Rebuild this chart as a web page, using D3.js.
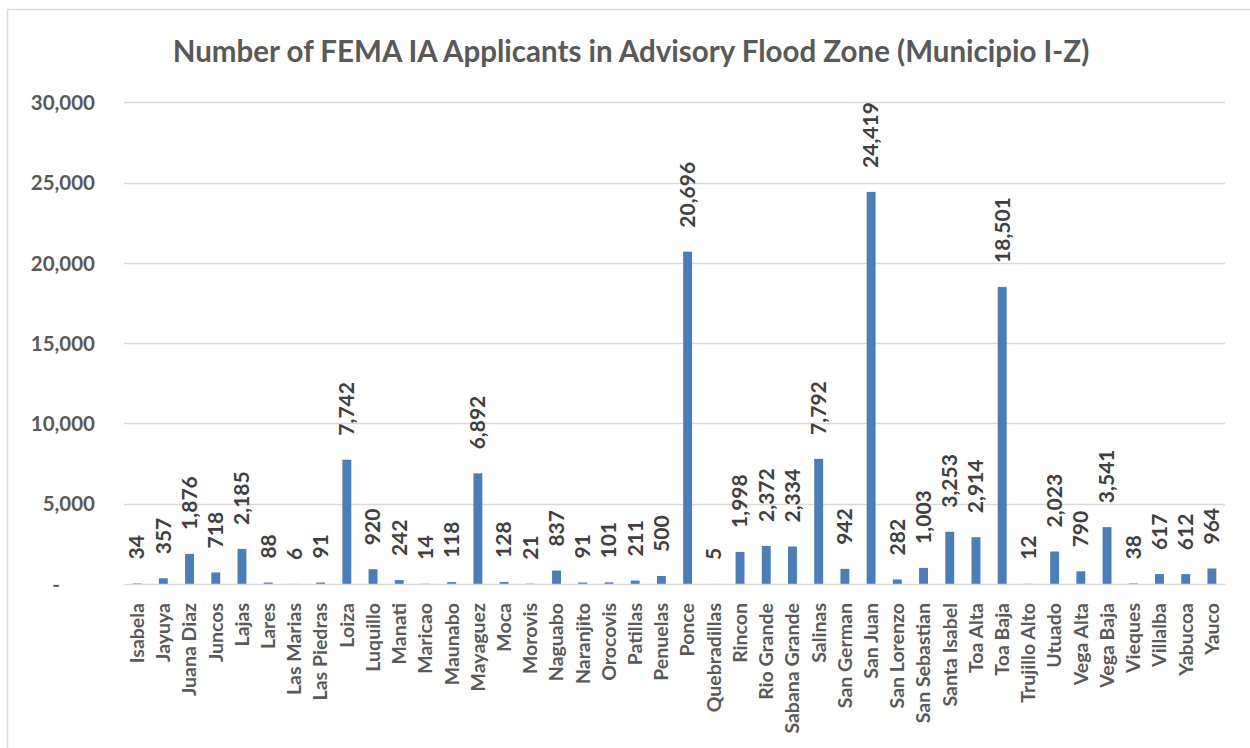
<!DOCTYPE html>
<html>
<head>
<meta charset="utf-8">
<script src="https://cdn.jsdelivr.net/npm/d3@7"></script>
<style>
  html, body { margin: 0; padding: 0; background: #fff; }
  svg { display: block; }
  text { font-family: Lato, "Open Sans", "Liberation Sans", sans-serif; font-weight: bold; }
</style>
</head>
<body>
<svg id="chart" width="1250" height="748"></svg>
<script>
// Municipios (I-Z) and number of FEMA IA applicants in the advisory flood zone
const municipios = [
  "Isabela", "Jayuya", "Juana Diaz", "Juncos", "Lajas", "Lares", "Las Marias",
  "Las Piedras", "Loiza", "Luquillo", "Manati", "Maricao", "Maunabo", "Mayaguez",
  "Moca", "Morovis", "Naguabo", "Naranjito", "Orocovis", "Patillas", "Penuelas",
  "Ponce", "Quebradillas", "Rincon", "Rio Grande", "Sabana Grande", "Salinas",
  "San German", "San Juan", "San Lorenzo", "San Sebastian", "Santa Isabel",
  "Toa Alta", "Toa Baja", "Trujillo Alto", "Utuado", "Vega Alta", "Vega Baja",
  "Vieques", "Villalba", "Yabucoa", "Yauco"
];
const applicants = [
  34, 357, 1876, 718, 2185, 88, 6,
  91, 7742, 920, 242, 14, 118, 6892,
  128, 21, 837, 91, 101, 211, 500,
  20696, 5, 1998, 2372, 2334, 7792,
  942, 24419, 282, 1003, 3253,
  2914, 18501, 12, 2023, 790, 3541,
  38, 617, 612, 964
];
const yTicks = [0, 5000, 10000, 15000, 20000, 25000, 30000];
const chartTitle = "Number of FEMA IA Applicants in Advisory Flood Zone (Municipio I-Z)";

const svg = d3.select("#chart");
const fmt = d3.format(",");

// Chart frame
svg.append("rect")
  .attr("x", 7.5).attr("y", 9.5)
  .attr("width", 1260).attr("height", 760)
  .attr("fill", "#fff")
  .attr("stroke", "#d9d9d9").attr("stroke-width", 1.5);

const plot = { left: 124, right: 1225, top: 102.3, bottom: 584 };

const x = d3.scaleBand()
  .domain(municipios)
  .range([plot.left, plot.right])
  .paddingInner(0.66)
  .paddingOuter(0.33);

const y = d3.scaleLinear()
  .domain([0, 30000])
  .range([plot.bottom, plot.top]);

// Title
svg.append("text")
  .attr("x", 631).attr("y", 62)
  .attr("text-anchor", "middle")
  .attr("fill", "#595959")
  .attr("font-size", 29.5)
  .text(chartTitle);

// Horizontal gridlines
svg.append("g")
  .selectAll("line")
  .data(yTicks.filter(d => d > 0))
  .join("line")
  .attr("x1", plot.left).attr("x2", plot.right)
  .attr("y1", d => Math.round(y(d)) + 0.5).attr("y2", d => Math.round(y(d)) + 0.5)
  .attr("stroke", "#d9d9d9").attr("stroke-width", 1.3);

// Y axis tick labels
const yAxis = d3.axisLeft(y)
  .tickValues(yTicks)
  .tickSize(0)
  .tickPadding(0)
  .tickFormat(d => d === 0 ? "-" : fmt(d));
const yG = svg.append("g")
  .attr("transform", `translate(${95},0)`)
  .call(yAxis);
yG.select(".domain").remove();
yG.selectAll("text")
  .attr("fill", "#595959")
  .attr("font-size", 20.5)
  .attr("font-family", null)
  .attr("dy", "0.35em");
yG.selectAll(".tick").filter(d => d === 0).select("text").attr("dx", -35);

// Bars
svg.append("g")
  .selectAll("rect")
  .data(municipios)
  .join("rect")
  .attr("x", d => x(d))
  .attr("width", x.bandwidth())
  .attr("y", (d, i) => y(applicants[i]))
  .attr("height", (d, i) => y(0) - y(applicants[i]))
  .attr("fill", "#4a7ebb");

// Category axis
const xAxis = d3.axisBottom(x).tickSize(0).tickPadding(0);
const xG = svg.append("g")
  .attr("transform", `translate(0,${plot.bottom})`)
  .call(xAxis);
xG.select(".domain")
  .attr("stroke", "#d9d9d9").attr("stroke-width", 1.5);
xG.selectAll("text")
  .attr("fill", "#595959")
  .attr("font-size", 19.5)
  .attr("font-family", null)
  .attr("text-anchor", "end")
  .attr("transform", "translate(0,19) rotate(-90)")
  .attr("x", 0).attr("y", 0)
  .attr("dy", "0.35em");

// Value labels above bars
svg.append("g")
  .selectAll("text")
  .data(municipios)
  .join("text")
  .attr("transform", (d, i) =>
    `translate(${x(d) + x.bandwidth() / 2},${y(applicants[i]) - 24}) rotate(-90)`)
  .attr("dy", "0.35em")
  .attr("text-anchor", "start")
  .attr("fill", "#404040")
  .attr("font-size", 21)
  .text((d, i) => fmt(applicants[i]));
</script>
</body>
</html>
